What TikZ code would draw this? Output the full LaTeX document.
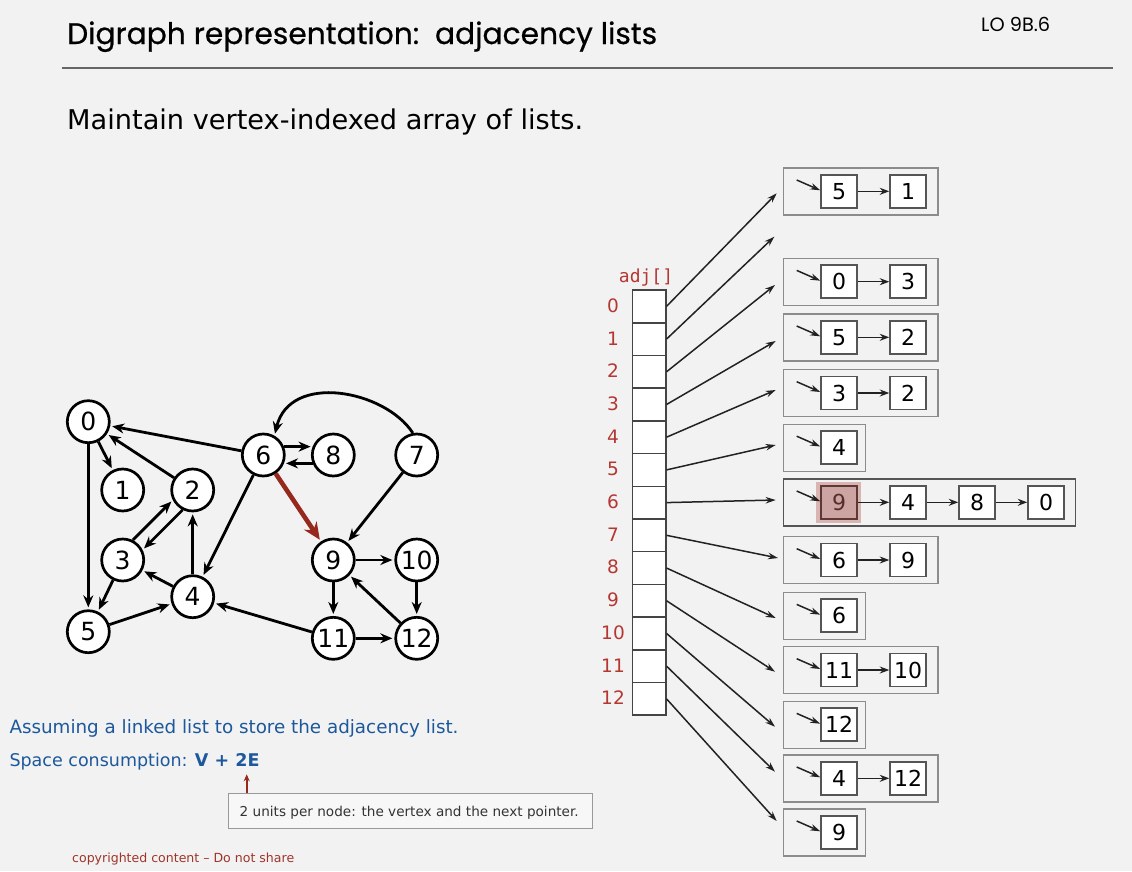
\documentclass[tikz,border=0pt]{standalone}
\usepackage{fontspec}
\usepackage{graphicx}
\setmainfont{DejaVu Sans}
\newfontfamily\titlefont[FakeBold=0.6]{Poppins}
\newfontfamily\lofont{Poppins}
\newfontfamily\adjmono{DejaVu Sans Mono}
\usetikzlibrary{arrows.meta}
\definecolor{bgc}{HTML}{F2F2F2}
\definecolor{rulec}{HTML}{666666}
\definecolor{edgered}{RGB}{150,40,30}
\definecolor{idxred}{RGB}{180,55,50}
\definecolor{cellgray}{HTML}{444444}
\definecolor{boxgray}{HTML}{8C8C8C}
\definecolor{sqgray}{HTML}{555555}
\definecolor{arrdark}{HTML}{222222}
\definecolor{hlhalo}{RGB}{216,180,178}
\definecolor{hlfill}{RGB}{204,164,161}
\definecolor{hlborder}{RGB}{95,55,52}
\definecolor{hltext}{RGB}{85,45,42}
\definecolor{bluetxt}{RGB}{28,88,155}
\definecolor{copyred}{RGB}{160,52,42}
\definecolor{notegray}{HTML}{999999}
\newcommand\fitw[2]{\resizebox{#1}{!}{#2}}
\begin{document}
\begin{tikzpicture}[x=1pt,y=-1pt,
  vtx/.style={circle, draw=black, line width=2.7pt, fill=white, minimum size=42pt, inner sep=0pt, font=\fontsize{25}{25}\selectfont},
  gedge/.style={line width=2.8pt, -{Stealth[length=12pt,width=10pt]}, shorten >=2pt},
  redge/.style={line width=4.6pt, draw=edgered, -{Stealth[length=17pt,width=15pt]}, shorten >=2pt},
  cell/.style={rectangle, draw=cellgray, line width=1.5pt, fill=white, minimum width=33.3pt, minimum height=32.7pt, inner sep=0pt, anchor=north west},
  idx/.style={text=idxred, font=\fontsize{18.5}{18.5}\selectfont, inner sep=0pt},
  lbox/.style={rectangle, draw=boxgray, line width=1.3pt, anchor=north west, minimum height=47pt, inner sep=0pt},
  sq/.style={rectangle, draw=sqgray, line width=1.5pt, fill=white, minimum width=36pt, minimum height=33pt, inner sep=0pt, font=\fontsize{22}{22}\selectfont},
  aptr/.style={line width=1.5pt, draw=arrdark, -{Stealth[length=10pt,width=6.5pt]}},
  lnk/.style={line width=1.4pt, draw=arrdark, -{Stealth[length=9.5pt,width=7pt]}}
]
\useasboundingbox[fill=bgc] (0,0) rectangle (1132,871);

% ---------- title ----------
\node[anchor=base west, inner sep=0pt, font=\titlefont\fontsize{33}{33}\selectfont] (title) at (67,44) {\fitw{590pt}{Digraph representation:\ \ adjacency lists}};
\node[anchor=base west, inner sep=0pt, font=\lofont\fontsize{16}{16}\selectfont] (lo) at (981,31) {\fitw{69pt}{LO 9B.6}};
\coordinate (rl) at (62,67.5);
\coordinate (rr) at (1113,67.5);
\draw[rulec, line width=2pt] (rl) -- (rr);
\node[anchor=base west, inner sep=0pt, font=\fontsize{27}{27}\selectfont] (sub) at (67,129.5) {\fitw{516pt}{Maintain vertex-indexed array of lists.}};

% ---------- graph ----------
\node[vtx] (v0) at (88.3,421.7) {0};
\node[vtx] (v1) at (122.7,490) {1};
\node[vtx] (v2) at (192.7,490) {2};
\node[vtx] (v3) at (122.7,560) {3};
\node[vtx] (v4) at (192.7,596.7) {4};
\node[vtx] (v5) at (88.3,631.7) {5};
\node[vtx] (v6) at (263.3,455) {6};
\node[vtx] (v8) at (333.3,455) {8};
\node[vtx] (v7) at (416.7,455) {7};
\node[vtx] (v9) at (333.3,560) {9};
\node[vtx] (v10) at (416.7,560) {10};
\node[vtx] (v11) at (333.3,638.3) {11};
\node[vtx] (v12) at (416.7,638.3) {12};

\draw[gedge] (v0) -- (v5);
\draw[gedge] (v0) -- (v1);
\draw[gedge] (v2) -- (v0);
\draw[gedge] (v2.243) -- (v3.27);
\draw[gedge] (v3.63) -- (v2.207);
\draw[gedge] (v3) -- (v5);
\draw[gedge] (v4) -- (v3);
\draw[gedge] (v4) -- (v2);
\draw[gedge] (v5) -- (v4);
\draw[gedge] (v6) -- (v4);
\draw[gedge] (v6.22) -- (v8.158);
\draw[gedge] (v8.202) -- (v6.338);
\draw[gedge] (v6) -- (v0);
\draw[redge] (v6) -- (v9);
\draw[gedge] (v7.100) .. controls (385,390) and (290,372) .. (v6.60);
\draw[gedge] (v7) -- (v9);
\draw[gedge] (v9) -- (v11);
\draw[gedge] (v9) -- (v10);
\draw[gedge] (v10) -- (v12);
\draw[gedge] (v11) -- (v4);
\draw[gedge] (v11) -- (v12);
\draw[gedge] (v12) -- (v9);

% ---------- array ----------
\node[text=idxred, inner sep=0pt, font=\adjmono\fontsize{18}{18}\selectfont] (adj) at (646,278) {adj[]};
\foreach \i in {0,...,12} {
  \node[cell] (c\i) at (631.7,{289.3+32.7*\i}) {};
  \node[idx] (i\i) at (613,{305.65+32.7*\i}) {\i};
}

% arrow end points
\coordinate (e0) at (776.7,193.3);
\coordinate (e1) at (774.3,236.7);
\coordinate (e2) at (775,285);
\coordinate (e3) at (775.7,341);
\coordinate (e4) at (775.7,390);
\coordinate (e5) at (775.7,445);
\coordinate (e6) at (775.7,500);
\coordinate (e7) at (778,558);
\coordinate (e8) at (775.7,618);
\coordinate (e9) at (775,671.7);
\coordinate (e10) at (775,726.7);
\coordinate (e11) at (775,771.7);
\coordinate (e12) at (776.7,821);
\foreach \i in {0,...,12} {
  \draw[aptr] (c\i.east) -- (e\i);
}

% ---------- lists ----------
% list 0
\node[lbox, minimum width=154.8pt] (b0) at (782.5,167.3) {};
\node[sq] (s0a) at (839,191.3) {5};
\node[sq] (s0b) at (908,191.3) {1};
\coordinate (p0) at (796.7,180);
\draw[aptr] (p0) -- ([yshift=1pt]s0a.west);
\draw[lnk] (s0a) -- (s0b);
% list 2
\node[lbox, minimum width=154.8pt] (b2) at (782.5,257.7) {};
\node[sq] (s2a) at (839,281.7) {0};
\node[sq] (s2b) at (908,281.7) {3};
\coordinate (p2) at (796.7,270.4);
\draw[aptr] (p2) -- ([yshift=1pt]s2a.west);
\draw[lnk] (s2a) -- (s2b);
% list 3
\node[lbox, minimum width=154.8pt] (b3) at (782.5,313.3) {};
\node[sq] (s3a) at (839,337.3) {5};
\node[sq] (s3b) at (908,337.3) {2};
\coordinate (p3) at (796.7,326);
\draw[aptr] (p3) -- ([yshift=1pt]s3a.west);
\draw[lnk] (s3a) -- (s3b);
% list 4
\node[lbox, minimum width=154.8pt] (b4) at (782.5,369) {};
\node[sq] (s4a) at (839,393) {3};
\node[sq] (s4b) at (908,393) {2};
\coordinate (p4) at (796.7,381.7);
\draw[aptr] (p4) -- ([yshift=1pt]s4a.west);
\draw[lnk] (s4a) -- (s4b);
% list 5
\node[lbox, minimum width=82.5pt] (b5) at (782.5,423.5) {};
\node[sq] (s5a) at (839,447.5) {4};
\coordinate (p5) at (796.7,436.2);
\draw[aptr] (p5) -- ([yshift=1pt]s5a.west);
% list 6
\node[lbox, minimum width=292.5pt, draw=sqgray] (b6) at (782.5,478.3) {};
\node[fill=hlhalo, minimum width=45pt, minimum height=41pt, inner sep=0pt] (hl) at (838,502.6) {};
\node[sq, fill=hlfill, draw=hlborder, text=hltext] (s6a) at (839,502.3) {9};
\node[sq] (s6b) at (908,502.3) {4};
\node[sq] (s6c) at (977,502.3) {8};
\node[sq] (s6d) at (1046,502.3) {0};
\coordinate (p6) at (796.7,491);
\draw[aptr] (p6) -- ([yshift=1pt]s6a.west);
\draw[lnk] (s6a) -- (s6b);
\draw[lnk] (s6b) -- (s6c);
\draw[lnk] (s6c) -- (s6d);
% list 7
\node[lbox, minimum width=154.8pt] (b7) at (782.5,536) {};
\node[sq] (s7a) at (839,560) {6};
\node[sq] (s7b) at (908,560) {9};
\coordinate (p7) at (796.7,548.7);
\draw[aptr] (p7) -- ([yshift=1pt]s7a.west);
\draw[lnk] (s7a) -- (s7b);
% list 8
\node[lbox, minimum width=82.5pt] (b8) at (782.5,591.7) {};
\node[sq] (s8a) at (839,615.7) {6};
\coordinate (p8) at (796.7,604.4);
\draw[aptr] (p8) -- ([yshift=1pt]s8a.west);
% list 9
\node[lbox, minimum width=154.8pt] (b9) at (782.5,646) {};
\node[sq] (s9a) at (839,670) {11};
\node[sq] (s9b) at (908,670) {10};
\coordinate (p9) at (796.7,658.7);
\draw[aptr] (p9) -- ([yshift=1pt]s9a.west);
\draw[lnk] (s9a) -- (s9b);
% list 10
\node[lbox, minimum width=82.5pt] (b10) at (782.5,700.7) {};
\node[sq] (s10a) at (839,724.7) {12};
\coordinate (p10) at (796.7,713.4);
\draw[aptr] (p10) -- ([yshift=1pt]s10a.west);
% list 11
\node[lbox, minimum width=154.8pt] (b11) at (782.5,754.3) {};
\node[sq] (s11a) at (839,778.3) {4};
\node[sq] (s11b) at (908,778.3) {12};
\coordinate (p11) at (796.7,767);
\draw[aptr] (p11) -- ([yshift=1pt]s11a.west);
\draw[lnk] (s11a) -- (s11b);
% list 12
\node[lbox, minimum width=82.5pt] (b12) at (782.5,808.3) {};
\node[sq] (s12a) at (839,832.3) {9};
\coordinate (p12) at (796.7,821);
\draw[aptr] (p12) -- ([yshift=1pt]s12a.west);

% ---------- bottom text ----------
\node[anchor=base west, inner sep=0pt, text=bluetxt, font=\fontsize{19}{19}\selectfont] (t1) at (9.3,733.3) {\fitw{449pt}{Assuming a linked list to store the adjacency list.}};
\node[anchor=base west, inner sep=0pt, text=bluetxt, font=\fontsize{19}{19}\selectfont] (t2) at (9.3,766.7) {\fitw{250pt}{Space consumption: \textbf{V + 2E}}};
\node[rectangle, draw=notegray, line width=1.3pt, fill=bgc!60!white, anchor=north west, minimum width=364pt, minimum height=35pt, inner sep=0pt] (note) at (227.5,792.7) {};
\node[anchor=west, inner sep=0pt, text=black!80, font=\fontsize{14}{14}\selectfont] (notetxt) at (239.5,812.5) {\fitw{339pt}{2 units per node: the vertex and the next pointer.}};
\coordinate (nt) at (246.7,774.3);
\draw[edgered, line width=1.8pt, -{Stealth[length=7pt,width=6pt]}] ([xshift=19.2pt]note.north west) -- (nt);
\node[anchor=base west, inner sep=0pt, text=copyred, font=\fontsize{13}{13}\selectfont] (copy) at (72,862.5) {\fitw{222pt}{copyrighted content -- Do not share}};
\end{tikzpicture}
\end{document}
